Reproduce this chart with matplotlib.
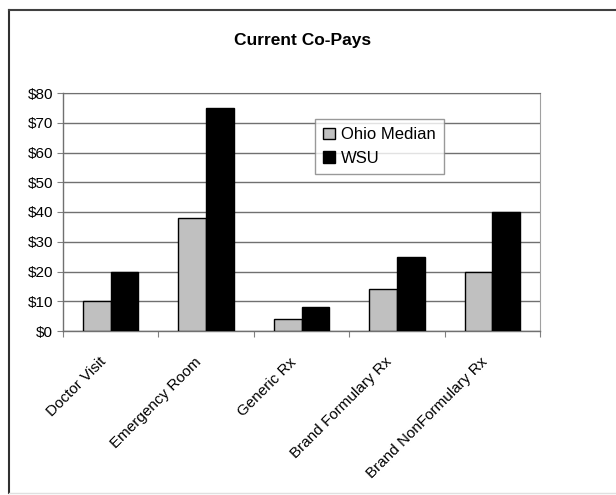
import matplotlib
matplotlib.use("Agg")
import matplotlib.pyplot as plt
from matplotlib.lines import Line2D
import matplotlib.transforms as mtransforms
import numpy as np

categories = ["Doctor Visit", "Emergency Room", "Generic Rx", "Brand Formulary Rx", "Brand NonFormulary Rx"]
ohio_median = [10, 38, 4, 14, 20]
wsu = [20, 75, 8, 25, 40]
series_names = ["Ohio Median", "WSU"]
yticks = [0, 10, 20, 30, 40, 50, 60, 70, 80]
ytick_labels = ["$0", "$10", "$20", "$30", "$40", "$50", "$60", "$70", "$80"]

plt.rcParams['font.family'] = ['Liberation Sans', 'DejaVu Sans']

W, H = 616, 495
fig = plt.figure(figsize=(W / 100, H / 100), dpi=100)
ax = fig.add_axes([63 / W, 1 - 331 / H, (540 - 63) / W, (331 - 93) / H])

x = np.arange(len(categories))
bw = 0.29
ax.bar(x - bw / 2, ohio_median, bw, color="#c0c0c0", edgecolor="black", linewidth=1.0,
       label=series_names[0], zorder=3)
ax.bar(x + bw / 2, wsu, bw, color="black", edgecolor="black", linewidth=1.0,
       label=series_names[1], zorder=3)

ax.set_xlim(-0.5, len(categories) - 0.5)
ax.set_ylim(0, 80)
ax.set_yticks(yticks)
ax.set_yticklabels(ytick_labels, fontsize=11)
ax.yaxis.grid(True, color="#707070", linewidth=1.0, zorder=0)

ax.set_xticks(np.arange(len(categories) + 1) - 0.5)
ax.set_xticklabels([])
offset = mtransforms.ScaledTranslation(-12 / 100, -24 / 100, fig.dpi_scale_trans)
for xi, cat in zip(x, categories):
    ax.text(xi, 0, cat, transform=ax.get_xaxis_transform() + offset,
            rotation=45, ha="right", va="top", rotation_mode="anchor", fontsize=11)
ax.tick_params(axis="x", which="major", length=4, color="#808080", direction="out")
ax.tick_params(axis="y", length=4, color="#808080", direction="out", pad=3)

for side in ["left", "bottom"]:
    ax.spines[side].set_color("#707070")
    ax.spines[side].set_linewidth(1.0)
ax.spines["right"].set_color("#a0a0a0")
ax.spines["top"].set_color("#707070")

leg = ax.legend(loc="upper left", bbox_to_anchor=((315 - 63) / 477, (331 - 119) / 238),
                fontsize=12, frameon=True, fancybox=False, edgecolor="#808080",
                handlelength=0.7, handleheight=0.7, handletextpad=0.35,
                borderpad=0.5, labelspacing=0.5, borderaxespad=0)
leg.get_frame().set_linewidth(1.0)

fig.text(303 / W, 1 - 40 / H, "Current Co-Pays", ha="center", va="center",
         fontsize=12.5, fontweight="bold")

# outer chart frame
fig.lines.append(Line2D([8.5 / W, 8.5 / W], [1 - 10 / H, 1 - 493 / H],
                        transform=fig.transFigure, color="#303030", linewidth=1.5))
fig.lines.append(Line2D([8.5 / W, 1.0], [1 - 10 / H, 1 - 10 / H],
                        transform=fig.transFigure, color="#404040", linewidth=1.5))
fig.lines.append(Line2D([8.5 / W, 1.0], [1 - 493 / H, 1 - 493 / H],
                        transform=fig.transFigure, color="#e0e0e0", linewidth=1.0))

fig.savefig("out.png", dpi=100)
